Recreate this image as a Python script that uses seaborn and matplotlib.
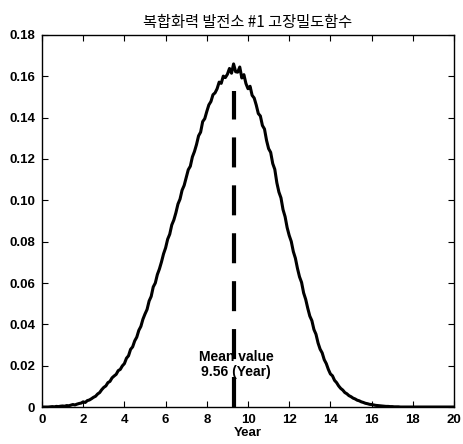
import matplotlib
matplotlib.use("Agg")
import matplotlib.pyplot as plt
import numpy as np
import pandas as pd
import seaborn as sns

title = "복합화력 발전소 #1 고장밀도함수"
xlabel = "Year"
mean_year = 9.3
mean_label = "Mean value\n9.56 (Year)"

years = [round(i * 0.1, 1) for i in range(201)]
density = [
    0, 0, 0, 0, 0.0001, 0.0002, 0.0001, 0.0003, 0.0002, 0.0004,
    0.0005, 0.0004, 0.0007, 0.0006, 0.0009, 0.0012, 0.0010, 0.0014, 0.0017, 0.0019,
    0.0025, 0.0022, 0.0031, 0.0034, 0.0040, 0.0047, 0.0052, 0.0063, 0.0070, 0.0084,
    0.0095, 0.0102, 0.0118, 0.0124, 0.0141, 0.0150, 0.0158, 0.0176, 0.0182, 0.0199,
    0.0210, 0.0236, 0.0248, 0.0279, 0.0291, 0.0320, 0.0338, 0.0371, 0.0390, 0.0425,
    0.0450, 0.0472, 0.0513, 0.0535, 0.0581, 0.0600, 0.0641, 0.0668, 0.0702, 0.0741,
    0.0770, 0.0812, 0.0836, 0.0881, 0.0905, 0.0940, 0.0982, 0.1006, 0.1049, 0.1072,
    0.1110, 0.1148, 0.1165, 0.1210, 0.1236, 0.1270, 0.1312, 0.1330, 0.1381, 0.1395,
    0.1430, 0.1462, 0.1478, 0.1511, 0.1520, 0.1540, 0.1572, 0.1566, 0.1601, 0.1594,
    0.1610, 0.1638, 0.1615, 0.1660, 0.1622, 0.1620, 0.1645, 0.1592, 0.1608, 0.1565,
    0.1540, 0.1552, 0.1508, 0.1495, 0.1461, 0.1420, 0.1408, 0.1362, 0.1345, 0.1290,
    0.1250, 0.1232, 0.1178, 0.1150, 0.1085, 0.1040, 0.1012, 0.0955, 0.0921, 0.0868,
    0.0830, 0.0801, 0.0752, 0.0720, 0.0671, 0.0630, 0.0603, 0.0552, 0.0521, 0.0478,
    0.0440, 0.0418, 0.0375, 0.0352, 0.0310, 0.0280, 0.0262, 0.0229, 0.0210, 0.0182,
    0.0160, 0.0151, 0.0129, 0.0118, 0.0102, 0.0090, 0.0082, 0.0070, 0.0064, 0.0055,
    0.0050, 0.0043, 0.0039, 0.0033, 0.0030, 0.0025, 0.0022, 0.0018, 0.0016, 0.0013,
    0.0012, 0.0010, 0.0008, 0.0007, 0.0006, 0.0005, 0.0004, 0.0003, 0.0003, 0.0002,
    0.0002, 0.0001, 0.0001, 0.0001, 0, 0, 0, 0, 0, 0,
    0, 0, 0, 0, 0, 0, 0, 0, 0, 0,
    0, 0, 0, 0, 0, 0, 0, 0, 0, 0,
    0,
]
x_ticks = [0, 2, 4, 6, 8, 10, 12, 14, 16, 18, 20]
y_ticks = [0, 0.02, 0.04, 0.06, 0.08, 0.10, 0.12, 0.14, 0.16, 0.18]
y_tick_labels = ["0", "0.02", "0.04", "0.06", "0.08", "0.10", "0.12", "0.14", "0.16", "0.18"]

sns.set_style("ticks")
plt.rcParams["font.family"] = ["Liberation Sans", "DejaVu Sans"]
plt.rcParams["text.color"] = "black"
plt.rcParams["axes.labelcolor"] = "black"

df = pd.DataFrame({"Year": years, "Density": density})

fig = plt.figure(figsize=(4.63, 4.44), dpi=100)
ax = fig.add_axes([0.0907, 0.0833, 0.8899, 0.8379])

sns.lineplot(data=df, x="Year", y="Density", ax=ax, color="black",
             linewidth=2.2, errorbar=None)

ax.plot([mean_year, mean_year], [0, 0.153], color="black", linewidth=3,
        linestyle=(0, (7.2, 4.3)))
ax.text(9.42, 0.0205, mean_label, ha="center", va="center", fontsize=10,
        fontweight="bold", linespacing=1.05, color="black")

ax.set_xlim(0, 20)
ax.set_ylim(0, 0.18)
ax.set_xticks(x_ticks)
ax.set_xticklabels([str(t) for t in x_ticks])
ax.set_yticks(y_ticks)
ax.set_yticklabels(y_tick_labels)
ax.tick_params(direction="in", top=True, right=True, length=4, width=0.8,
               labelsize=9.5, colors="black", pad=5)
for lab in ax.get_xticklabels() + ax.get_yticklabels():
    lab.set_fontweight("bold")
for sp in ax.spines.values():
    sp.set_visible(True)
    sp.set_linewidth(1.0)
    sp.set_color("black")

ax.set_xlabel(xlabel, fontsize=9.5, fontweight="bold", labelpad=1, color="black")
ax.set_ylabel("")
ax.set_title(title, fontsize=11, fontweight="medium", color="black",
             family=["Noto Sans CJK KR", "DejaVu Sans"], pad=6)

fig.savefig("out.png", dpi=100)
